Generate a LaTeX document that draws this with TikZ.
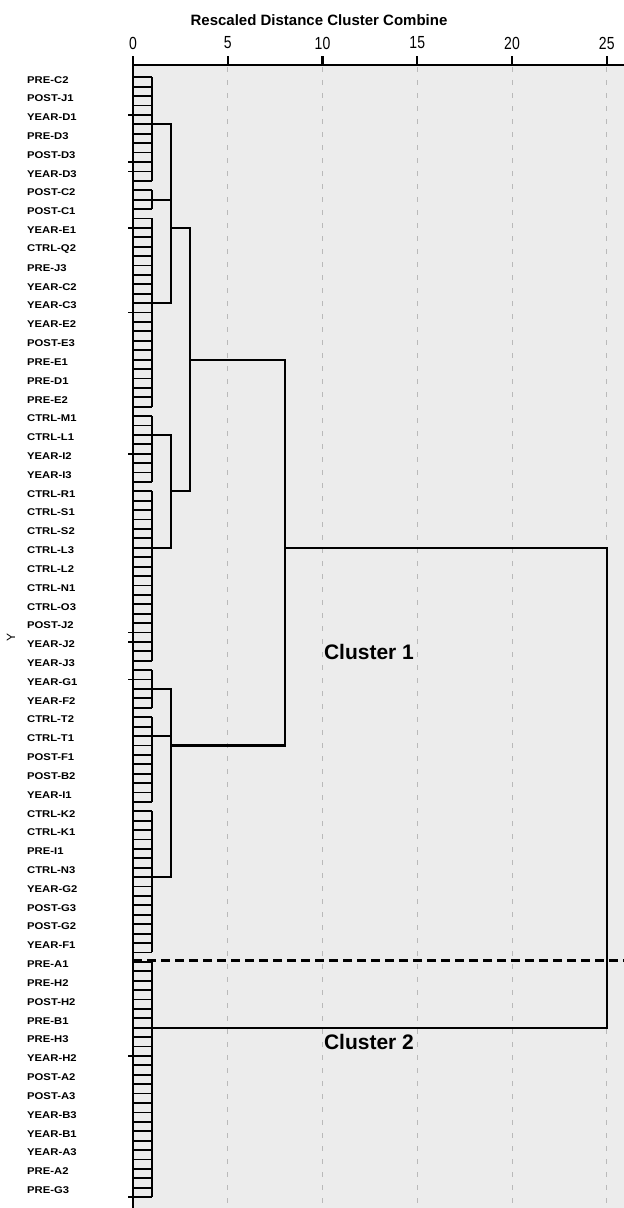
\documentclass[tikz,border=0pt]{standalone}
\usepackage{fontspec}
\setmainfont{Liberation Sans}
\newfontfamily\casefont[FakeStretch=1.15]{Liberation Sans}
\newfontfamily\tickfont[FakeStretch=0.8]{Liberation Sans}
\usetikzlibrary{positioning}
\definecolor{panel}{RGB}{236,236,236}
\definecolor{gridgray}{RGB}{185,185,185}
\tikzstyle{case} = [anchor=west, inner sep=0pt, font=\casefont\bfseries\fontsize{9.8}{10}\selectfont]
\tikzstyle{ticklabel} = [inner sep=0pt, font=\tickfont\fontsize{17.5}{18}\selectfont]
\tikzstyle{title} = [inner sep=0pt, font=\bfseries\fontsize{15}{16}\selectfont]
\tikzstyle{cluster} = [inner sep=0pt, font=\bfseries\fontsize{21}{22}\selectfont]
\tikzstyle{rung} = [line width=1.8pt]
\tikzstyle{link} = [line width=2.2pt]
\tikzstyle{axis} = [line width=2.4pt]
\tikzstyle{gridline} = [gridgray, line width=1pt, dash pattern=on 5pt off 8pt]
\tikzstyle{cut} = [line width=3pt, dash pattern=on 9pt off 5pt]

\begin{document}
\begin{tikzpicture}[x=1pt, y=-1pt]
\useasboundingbox (0,0) rectangle (624,1208);
\fill[panel] (133,65) rectangle (624,1208);
\foreach \v in {5,10,...,25}
  \draw[gridline] (133+\v*18.95,67) -- (133+\v*18.95,1208);

% distance axis
\node (title) [title] at (319,20) {Rescaled Distance Cluster Combine};
\draw[axis] (133,65) -- (624,65);
\draw[axis] (133,65) -- (133,1208);
\foreach \v in {0,5,...,25} {
  \draw[axis] (133+\v*18.95,56) -- (133+\v*18.95,65);
  \node (tick\v) [ticklabel] at (133+\v*18.95,43) {\v};
}
\node (ylabel) [rotate=90, inner sep=0pt, font=\fontsize{12}{12}\selectfont] at (11,637) {Y};

% cases
\foreach \name [count=\i] in {PRE-C2,POST-J1,YEAR-D1,PRE-D3,POST-D3,YEAR-D3,POST-C2,POST-C1,
  YEAR-E1,CTRL-Q2,PRE-J3,YEAR-C2,YEAR-C3,YEAR-E2,POST-E3,PRE-E1,PRE-D1,PRE-E2,CTRL-M1,CTRL-L1,
  YEAR-I2,YEAR-I3,CTRL-R1,CTRL-S1,CTRL-S2,CTRL-L3,CTRL-L2,CTRL-N1,CTRL-O3,POST-J2,YEAR-J2,YEAR-J3,
  YEAR-G1,YEAR-F2,CTRL-T2,CTRL-T1,POST-F1,POST-B2,YEAR-I1,CTRL-K2,CTRL-K1,PRE-I1,CTRL-N3,YEAR-G2,
  POST-G3,POST-G2,YEAR-F1,PRE-A1,PRE-H2,POST-H2,PRE-B1,PRE-H3,YEAR-H2,POST-A2,POST-A3,YEAR-B3,
  YEAR-B1,YEAR-A3,PRE-A2,PRE-G3}
  \node (case\i) [case] at (27,{79.7+(\i-1)*18.82}) {\name};

% dendrogram, x = distance, y = rung
\begin{scope}[shift={(133pt,-77.3pt)}, x=18.95pt, y=-9.41pt]
\foreach \k in {0,...,119}
  \draw[rung] (0,\k) -- (1,\k);
\foreach \a/\b in {0/11,12/14,15/35,36/43,44/62,63/67,68/77,78/93,94/119}
  \draw[rung] (1,\a) -- (1,\b);
\foreach \k in {4,9,10,16,25,40,59,60,64,104,119}
  \draw[rung] (-0.25,\k) -- (0,\k);
\draw[link] (1,5) -| (2,24) -- (1,24);
\draw[link] (1,13) -- (2,13);
\draw[link] (1,38) -| (2,50) -- (1,50);
\draw[link] (2,16) -| (3,44) -- (2,44);
\draw[link] (1,65) -| (2,85) -- (1,85);
\draw[link] (1,70) -- (2,70);
\draw[link] (3,30) -| (8,71) -- (2,71);
\draw[link] (8,50) -| (25,101) -- (1,101);
\end{scope}

% cut between the two clusters
\draw[cut] (133,960) -- (624,960);
\node (c1) [cluster] at (369,652) {Cluster 1};
\node (c2) [cluster] at (369,1042) {Cluster 2};
\end{tikzpicture}
\end{document}
